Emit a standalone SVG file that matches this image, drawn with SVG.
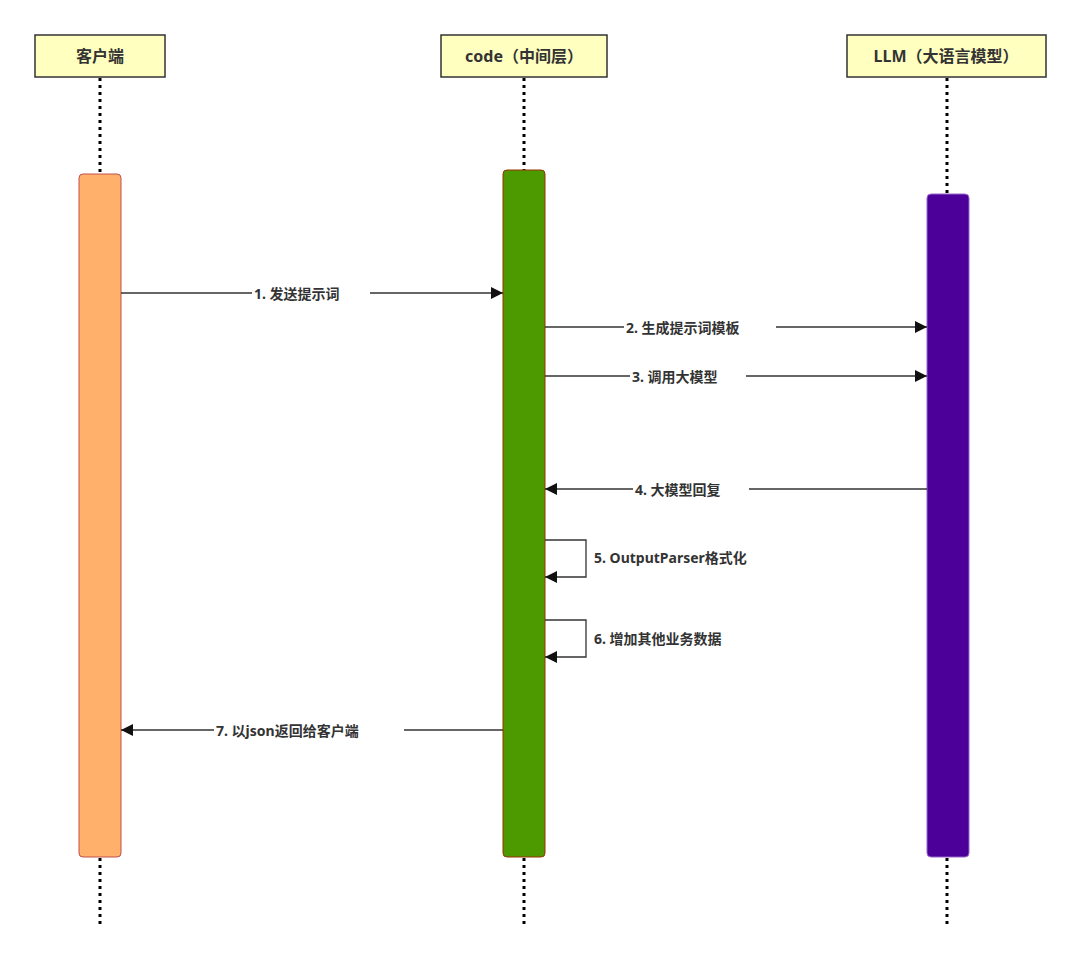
<svg xmlns="http://www.w3.org/2000/svg" width="1080" height="961" viewBox="0 0 1080 961">
<style>
.hd{fill:#ffffc0;stroke:#333;stroke-width:1.5}
.ht{font-family:"Noto Sans","Noto Sans CJK SC",sans-serif;font-weight:bold;font-size:16px;fill:#333;text-anchor:middle}
.life{stroke:#000;stroke-width:3;stroke-dasharray:3 4}
.msg{stroke:#333;stroke-width:1.3;fill:none}
.lb{font-family:"Noto Sans","Noto Sans CJK SC",sans-serif;font-weight:bold;font-size:14px;fill:#333}
.bg{fill:#fff}
</style>
<defs><marker id="ar" viewBox="0 0 10 10" refX="10" refY="5" markerWidth="16" markerHeight="12" markerUnits="userSpaceOnUse" orient="auto"><path d="M0,0L10,5L0,10z" fill="#111"/></marker></defs>
<rect width="1080" height="961" fill="#fff"/>
<g id="client">
<line class="life" x1="100" y1="78" x2="100" y2="174"/><line class="life" x1="100" y1="858" x2="100" y2="928"/>
<rect class="hd" x="35" y="35" width="130" height="42"/><text class="ht" x="100" y="62">客户端</text>
<rect x="79" y="174" width="42" height="683" rx="4" fill="#ffb06a" stroke="#c0504d"/>
</g>
<g id="code">
<line class="life" x1="524" y1="78" x2="524" y2="170"/><line class="life" x1="524" y1="858" x2="524" y2="928"/>
<rect class="hd" x="441" y="35" width="166" height="42"/><text class="ht" x="524" y="62">code（中间层）</text>
<rect x="503" y="170" width="42" height="687" rx="4" fill="#4d9900" stroke="#993300"/>
</g>
<g id="llm">
<line class="life" x1="947" y1="78" x2="947" y2="194"/><line class="life" x1="947" y1="858" x2="947" y2="928"/>
<rect class="hd" x="847" y="35" width="199" height="42"/><text class="ht" x="946" y="62">LLM（大语言模型）</text>
<rect x="927" y="194" width="42" height="663" rx="4" fill="#4c0099" stroke="#9966cc"/>
</g>
<g id="connectors">
<line class="msg" x1="121" y1="293" x2="503" y2="293" marker-end="url(#ar)"/>
<rect class="bg" x="252" y="283" width="118" height="20"/><text class="lb" x="254" y="299">1. 发送提示词</text>
<line class="msg" x1="545" y1="327" x2="927" y2="327" marker-end="url(#ar)"/>
<rect class="bg" x="624" y="317" width="152" height="20"/><text class="lb" x="626" y="333">2. 生成提示词模板</text>
<line class="msg" x1="545" y1="376" x2="927" y2="376" marker-end="url(#ar)"/>
<rect class="bg" x="630" y="366" width="116" height="20"/><text class="lb" x="632" y="382">3. 调用大模型</text>
<line class="msg" x1="927" y1="489" x2="545" y2="489" marker-end="url(#ar)"/>
<rect class="bg" x="633" y="479" width="116" height="20"/><text class="lb" x="635" y="495">4. 大模型回复</text>
<path class="msg" d="M545,540H586V577H545" marker-end="url(#ar)"/>
<text class="lb" x="594" y="563">5. OutputParser格式化</text>
<path class="msg" d="M545,620H586V657H545" marker-end="url(#ar)"/>
<text class="lb" x="594" y="644">6. 增加其他业务数据</text>
<line class="msg" x1="503" y1="730" x2="121" y2="730" marker-end="url(#ar)"/>
<rect class="bg" x="214" y="720" width="190" height="20"/><text class="lb" x="216" y="736">7. 以json返回给客户端</text>
</g>
</svg>
